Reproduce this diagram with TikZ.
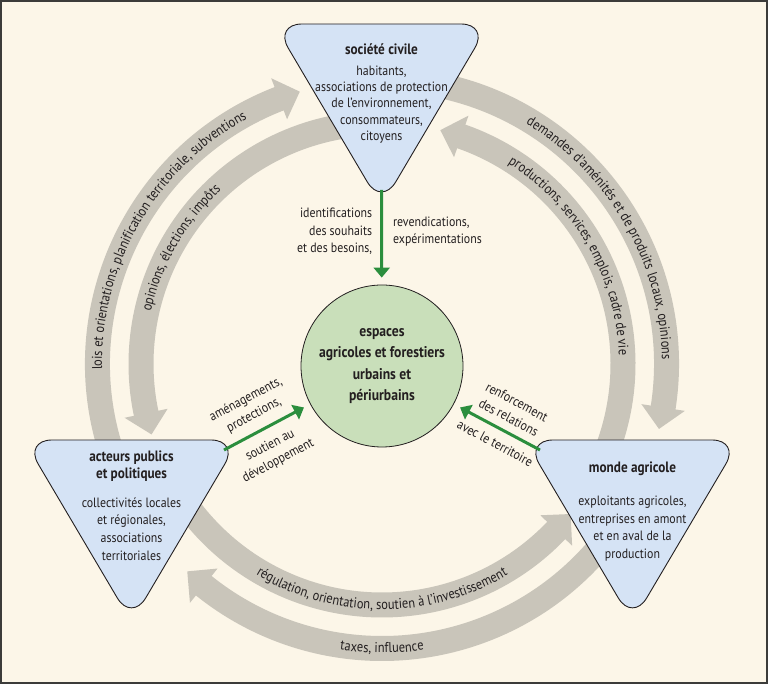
\documentclass[tikz,border=0pt]{standalone}
\usepackage{fontspec}
\setmainfont{PT Sans}[FakeStretch=0.88]
\usetikzlibrary{arrows.meta,calc,decorations.text}
\definecolor{bgc}{HTML}{FCF6E8}
\definecolor{bandc}{HTML}{C9C5BA}
\definecolor{tric}{HTML}{D5E3F5}
\definecolor{discc}{HTML}{C9DFBA}
\definecolor{grnc}{HTML}{2B8E3D}
\definecolor{inkc}{HTML}{231F20}
\definecolor{framec}{HTML}{3C3C3A}
\newcommand\arcfont{\fontsize{14.2}{15}\selectfont}
\newcommand\bandarr[4]{%
  \pgfmathsetmacro\bandext{#3+(#4-#3)/abs(#4-#3)}%
  \pgfmathsetmacro\headout{#1+22}%
  \pgfmathsetmacro\headin{#1-22}%
  \draw[bandline] ($(O)+(#2:#1)$) arc[start angle=#2,end angle=\bandext,radius=#1];
  \fill[bandc] ($(O)+(#3:\headout)$) -- ($(O)+(#4:#1)$) -- ($(O)+(#3:\headin)$) -- cycle;}
\newcommand\arctext[4]{%
  \path[decorate,decoration={text along path,text align=center,text color=inkc,text={|\arcfont|#4}}] ($(O)+(#2:#1)$) arc[start angle=#2,end angle=#3,radius=#1];}
\newcommand\roundtri[2]{%
  \draw[tristyle] ({#1-107.5},#2) -- ({#1+107.5},#2) -- (#1,{#2-182}) -- cycle;}
\tikzset{
  bandline/.style={draw=bandc,line width=25pt},
  tristyle/.style={draw=inkc,fill=tric,line width=0.9pt,rounded corners=28pt},
  titlef/.style={font=\bfseries\fontsize{15}{17}\selectfont,text=inkc,align=center,inner sep=0pt},
  bodyf/.style={font=\fontsize{13.5}{17.7}\selectfont,text=inkc,align=center,inner sep=0pt},
  topbody/.style={font=\fontsize{13.5}{16.3}\selectfont,text=inkc,align=center,inner sep=0pt},
  lbl/.style={font=\fontsize{13.5}{17.5}\selectfont,text=inkc,align=center,inner sep=2pt},
  disc/.style={circle,draw=inkc,fill=discc,line width=0.8pt,minimum size=162pt,inner sep=0pt,
    font=\bfseries\fontsize{15.5}{21.5}\selectfont,text=inkc,align=center},
  garrow/.style={draw=grnc,line width=3pt,shorten >=7pt,-{Triangle[width=16pt,length=10pt]}}
}
\begin{document}
\begin{tikzpicture}[x=1pt,y=1pt]
\useasboundingbox (0,0) rectangle (768,684);
\fill[bgc] (0,0) rectangle (768,684);
\coordinate (O) at (382,320);
% grey band arrows
\bandarr{284.5}{200}{111.2}{106.8}
\bandarr{241}{95}{191.8}{197}
\bandarr{284.5}{80}{-8.8}{-13.2}
\bandarr{241}{-25}{70.8}{76}
\bandarr{241}{215}{316.3}{321.5}
\bandarr{284.5}{322}{231.2}{226.8}
% texts on bands
\arctext{280}{192}{108}{lois et orientations, planification territoriale, subventions}
\arctext{237}{182}{118}{opinions, élections, impôts}
\arctext{280}{72}{-12}{demandes d’aménités et de produits locaux, opinions}
\arctext{237}{67}{-7}{productions, services, emplois, cadre de vie}
\arctext{245.5}{222}{318}{régulation, orientation, soutien à l’investissement}
\arctext{289}{245}{295}{taxes, influence}
% triangles
\roundtri{381.5}{660}
\roundtri{131.5}{244}
\roundtri{632.5}{244}
\coordinate (sctip) at (381.5,494);
\coordinate (apcorner) at (224,234);
\coordinate (macorner) at (540,234);
\node[titlef] (sctitle) at (381.5,635) {société civile};
\node[topbody] (scbody) at (381.5,579.6) {habitants,\\associations de protection\\de l’environnement,\\consommateurs,\\citoyens};
\node[titlef] (aptitle) at (131.5,217.5) {acteurs publics\\et politiques};
\node[bodyf] (apbody) at (131.5,155) {collectivités locales\\et régionales,\\associations\\territoriales};
\node[titlef] (matitle) at (632.5,215) {monde agricole};
\node[bodyf] (mabody) at (632.5,155.5) {exploitants agricoles,\\entreprises en amont\\et en aval de la\\production};
% centre
\node[disc] (espaces) at (382,318) {espaces\\agricoles et forestiers\\urbains et\\périurbains};
% green arrows
\draw[garrow] (sctip) -- (espaces)
  node[lbl,pos=0.437,left=6pt,align=right] (lblA) {identifications\\des souhaits\\et des besoins,}
  node[lbl,pos=0.437,right=8pt,align=left] (lblB) {revendications,\\expérimentations};
\draw[garrow] (apcorner) -- (espaces)
  node[lbl,pos=0.44,sloped,above=7pt] (lblC) {aménagements,\\protections,}
  node[lbl,pos=0.44,sloped,below=8pt] (lblD) {soutien au\\développement};
\draw[garrow] (macorner) -- (espaces);
\path (espaces) -- (macorner)
  node[lbl,pos=0.56,sloped,above=7pt] (lblE) {renforcement\\des relations}
  node[lbl,pos=0.56,sloped,below=8pt] (lblF) {avec le territoire};
\draw[framec,line width=2pt] (1,1) rectangle (767,683);
\end{tikzpicture}
\end{document}
